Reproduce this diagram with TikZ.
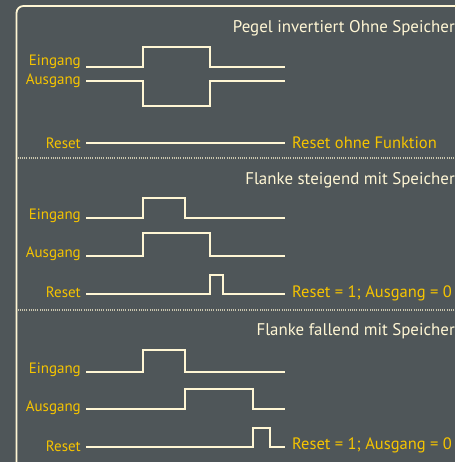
\documentclass[tikz,border=0pt]{standalone}
\usepackage{fontspec}
\setmainfont{PT Sans}
\definecolor{bgslate}{RGB}{79,86,89}
\definecolor{cream}{RGB}{255,246,212}
\definecolor{gold}{RGB}{246,196,0}
\begin{document}
\begin{tikzpicture}[x=1pt,y=-1pt,
  signal/.style={cream,line width=2.7pt,line join=miter},
  lbl/.style={gold,font=\fontsize{15}{16}\selectfont,anchor=east,inner sep=0pt},
  note/.style={gold,font=\fontsize{16.5}{18}\selectfont,anchor=west,inner sep=0pt},
  heading/.style={cream,font=\fontsize{16.9}{18}\selectfont,anchor=east,inner sep=0pt},
  sep/.style={cream!70!bgslate,line width=1.2pt,dash pattern=on 1pt off 1.2pt}]
\fill[bgslate] (0,0) rectangle (455,462);
\useasboundingbox (0,0) rectangle (455,462);
% frame
\draw[cream,line width=1.8pt,rounded corners=7pt] (16.5,470) -- (16.5,6) -- (470,6);
\draw[sep] (17.5,158) -- (455,158);
\draw[sep] (17.5,310) -- (455,310);

% --- Pegel invertiert ohne Speicher
\node[heading] (h1) at (455,28) {Pegel invertiert Ohne Speicher};
\node[lbl] (e1) at (81,62) {Eingang};
\node[lbl] (a1) at (81,81) {Ausgang};
\node[lbl] (r1) at (81,143) {Reset};
\draw[signal] (86,67) -- (143,67) -- (143,47) -- (210,47) -- (210,67) -- (285,67) coordinate (e1end);
\draw[signal] (86,81) -- (143,81) -- (143,106) -- (210,106) -- (210,81) -- (285,81) coordinate (a1end);
\draw[signal] (86,143) -- (285,143) coordinate (r1end);
\node[note] (n1) at (292,143) {Reset ohne Funktion};

% --- Flanke steigend mit Speicher
\node[heading] (h2) at (455,180) {Flanke steigend mit Speicher};
\node[lbl] (e2) at (81,216) {Eingang};
\node[lbl] (a2) at (81,254) {Ausgang};
\node[lbl] (r2) at (81,292) {Reset};
\draw[signal] (86,218) -- (143,218) -- (143,198) -- (185,198) -- (185,218) -- (285,218) coordinate (e2end);
\draw[signal] (86,256) -- (143,256) -- (143,233) -- (210,233) -- (210,256) -- (285,256) coordinate (a2end);
\draw[signal] (86,294) -- (210,294) -- (210,275) -- (223,275) -- (223,294) -- (285,294) coordinate (r2end);
\node[note] (n2) at (292,293) {Reset = 1; Ausgang = 0};

% --- Flanke fallend mit Speicher
\node[heading] (h3) at (455,331) {Flanke fallend mit Speicher};
\node[lbl] (e3) at (81,370) {Eingang};
\node[lbl] (a3) at (81,408) {Ausgang};
\node[lbl] (r3) at (81,446) {Reset};
\draw[signal] (86,372) -- (143,372) -- (143,350) -- (185,350) -- (185,372) -- (285,372) coordinate (e3end);
\draw[signal] (86,409) -- (185,409) -- (185,389) -- (253,389) -- (253,409) -- (285,409) coordinate (a3end);
\draw[signal] (86,447) -- (253,447) -- (253,428) -- (270,428) -- (270,447) -- (285,447) coordinate (r3end);
\node[note] (n3) at (292,445) {Reset = 1; Ausgang = 0};
\end{tikzpicture}
\end{document}
